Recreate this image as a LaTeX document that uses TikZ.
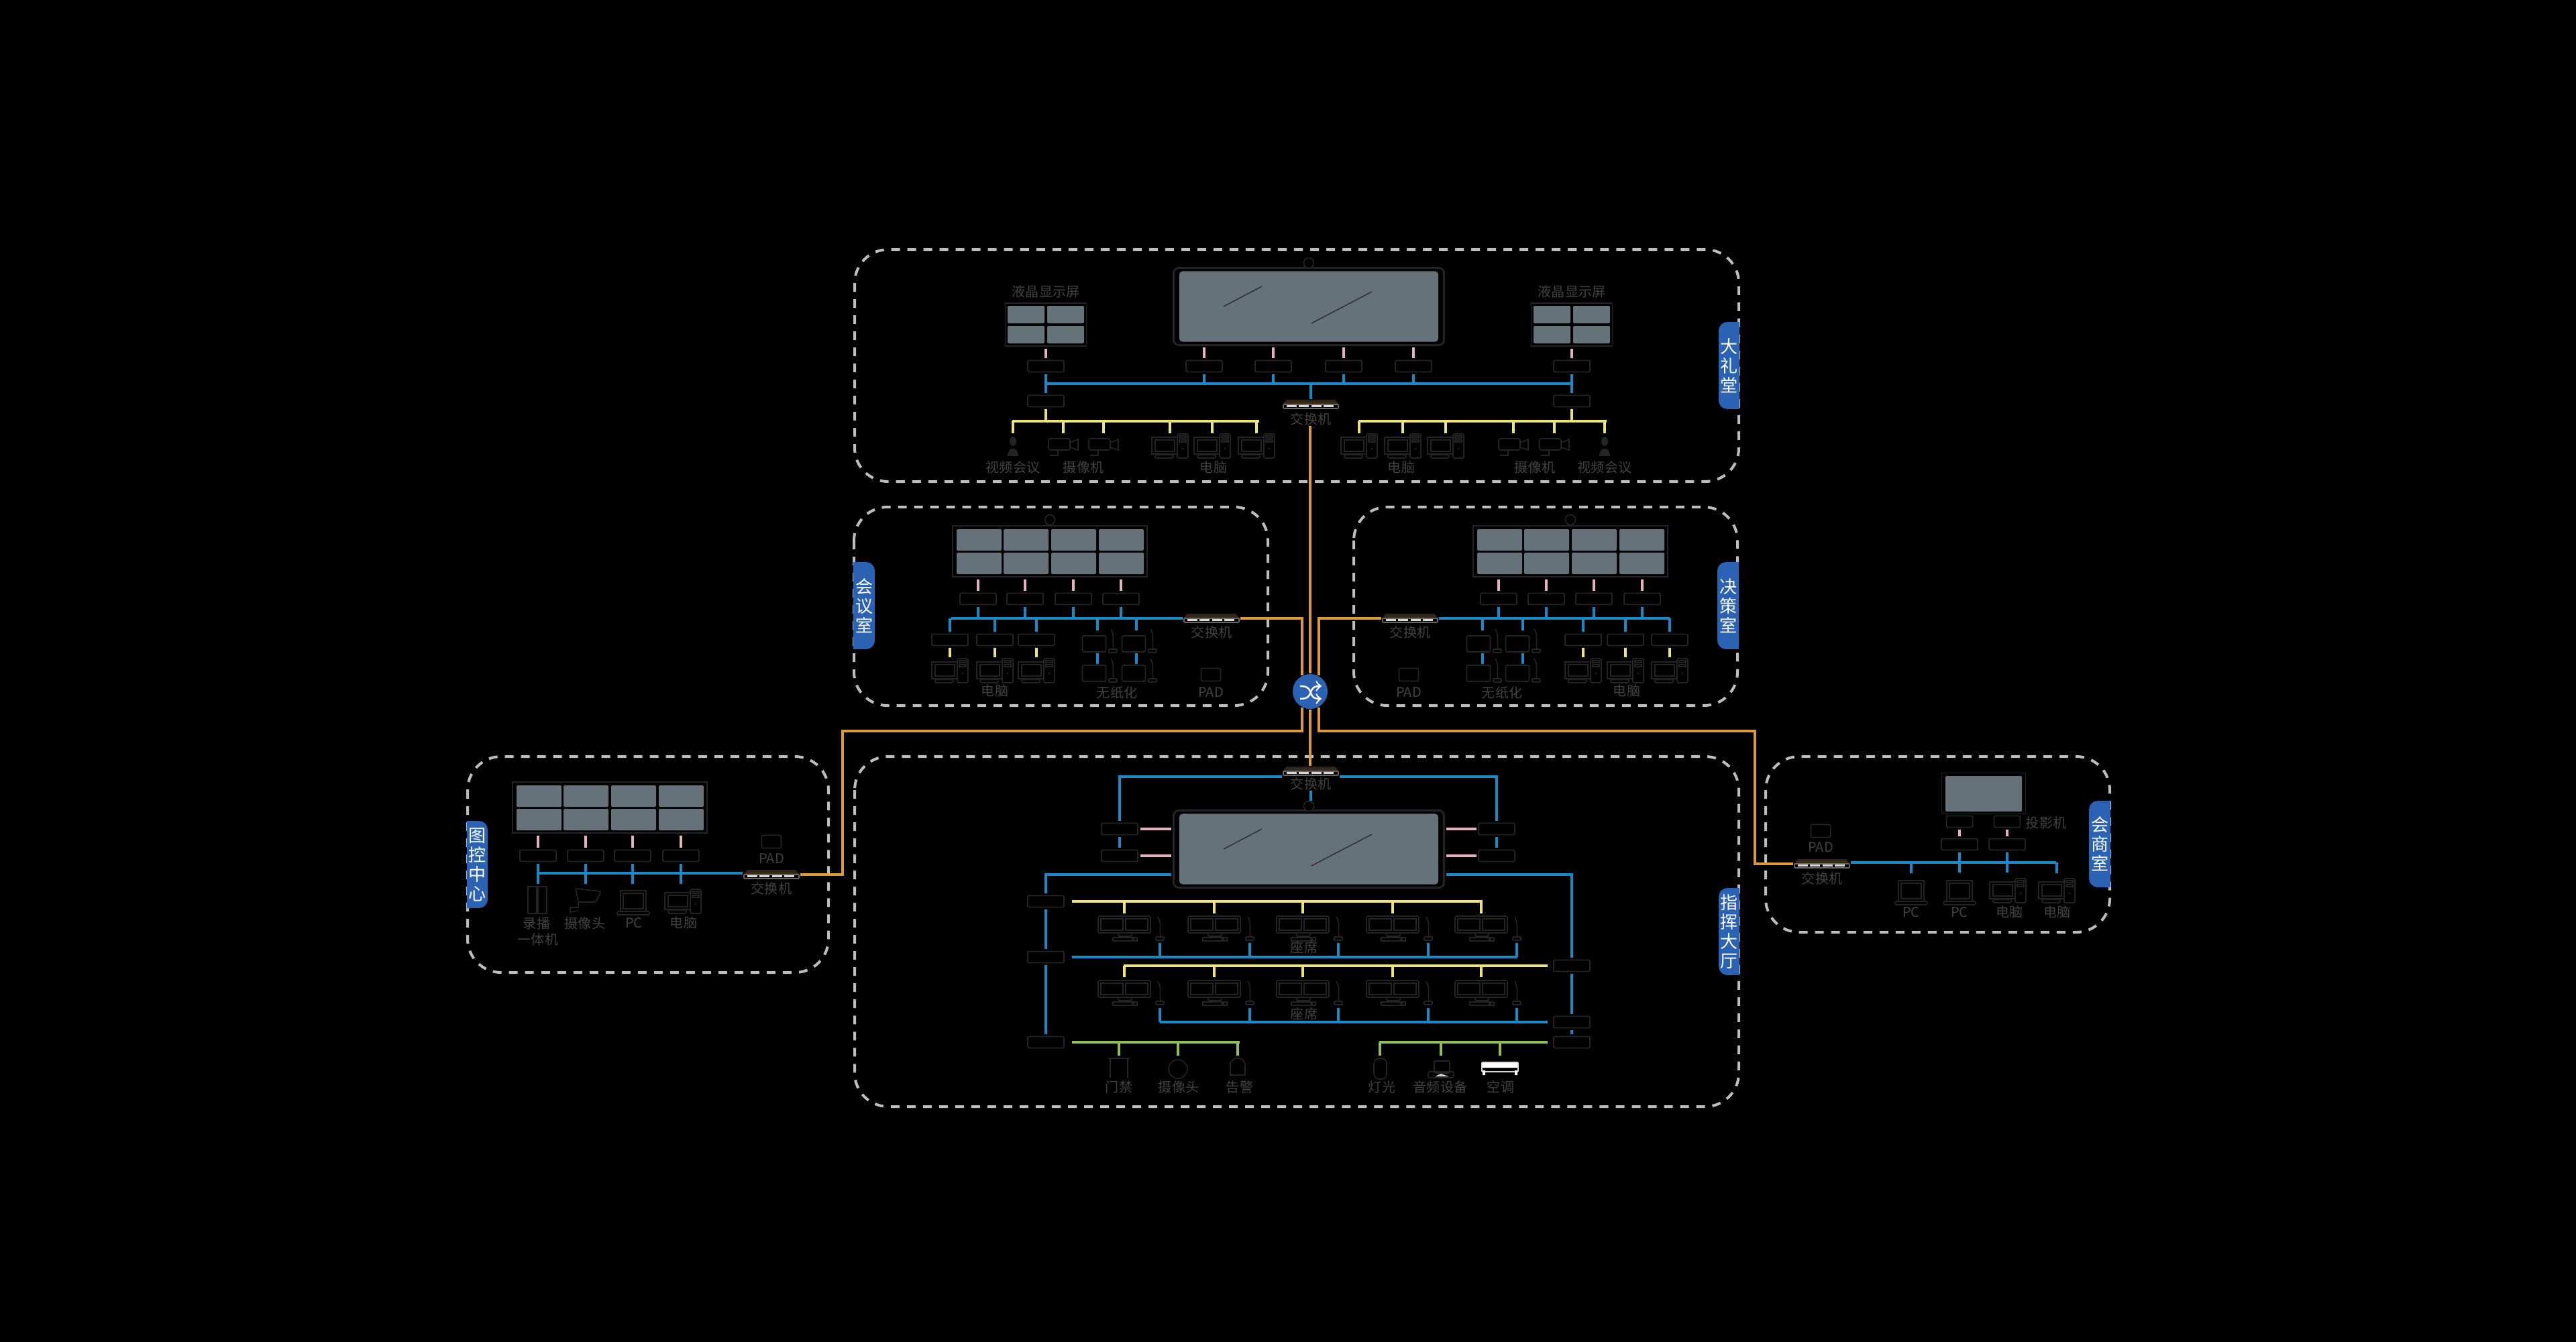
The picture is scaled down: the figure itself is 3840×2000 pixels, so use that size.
\documentclass[tikz,border=0pt]{standalone}
\usepackage{fontspec}
\setmainfont{Noto Sans CJK SC}
\definecolor{roomgray}{HTML}{BDBDBD}
\definecolor{panelgray}{HTML}{66727A}
\definecolor{iconc}{HTML}{242424}
\definecolor{labelc}{HTML}{424242}
\definecolor{tabblue}{HTML}{2B62B3}
\definecolor{netblue}{HTML}{1A8AC6}
\definecolor{netpink}{HTML}{E6AFC3}
\definecolor{netyellow}{HTML}{EDE57A}
\definecolor{netgreen}{HTML}{8FBF55}
\definecolor{netorange}{HTML}{DD9B38}
\tikzset{
  roomline/.style={draw=roomgray,line width=.04cm,dash pattern=on .13cm off .11cm,rounded corners=.5cm},
  boxnode/.style={draw=iconc,line width=.018cm,rounded corners=.02cm,minimum width=.54cm,minimum height=.17cm,inner sep=0,outer sep=.035cm},
  iconunit/.style={inner sep=0,outer sep=.02cm},
  iconln/.style={draw=iconc,line width=.016cm},
  framenode/.style={draw=iconc,fill=black,line width=.018cm,inner sep=0,outer sep=.035cm},
  panelfill/.style={fill=panelgray,rounded corners=.015cm},
  lbl/.style={text=labelc,font=\fontsize{5.7}{6.5}\selectfont,inner sep=0},
  tabtext/.style={text=white,font=\fontsize{7.4}{8.25}\selectfont,align=center,inner sep=0},
  blueln/.style={draw=netblue,line width=.035cm},
  pinkln/.style={draw=netpink,line width=.035cm},
  yellowln/.style={draw=netyellow,line width=.035cm},
  greenln/.style={draw=netgreen,line width=.035cm},
  orangeln/.style={draw=netorange,line width=.035cm}
}
\newcommand{\sidetab}[6]{
  \fill[tabblue,rounded corners=.13cm] (#2,#4) rectangle (#3,#5);
  \fill[tabblue] ({(#2+#3)/2},#4) rectangle (#3,#5);
  \node[tabtext] (#1) at ({(#2+#3)/2},{(#4+#5)/2}) {#6};
}
\newcommand{\bigscreen}[3]{
  \node[framenode,rounded corners=.08cm,line width=.03cm,minimum width=4.03cm,minimum height=1.15cm] (#1) at (#2,#3) {};
  \node[fill=panelgray,rounded corners=.05cm,inner sep=0,minimum width=3.86cm,minimum height=1.05cm] (#1p) at (#2,#3) {};
  \begin{scope}[shift={(#2,#3)}]
    \draw[black!80,line width=.016cm] (-127,0) -- (-70,-30) (4,25) -- (94,-22);
  \end{scope}
}
\newcommand{\lcdunit}[3]{
  \node[framenode,minimum width=1.21cm,minimum height=.64cm] (#1) at (#2,#3) {};
  \begin{scope}[shift={(#2,#3)}]
    \foreach \px in {-57,2} \foreach \py in {-28,2}
      \fill[panelfill] (\px,\py) rectangle ++(55,26);
  \end{scope}
}
\newcommand{\videowall}[3]{
  \node[framenode,minimum width=2.9cm,minimum height=.76cm] (#1) at (#2,#3) {};
  \begin{scope}[shift={(#2,#3)}]
    \foreach \px in {-139,-69,2,73} \foreach \py in {-33,2}
      \fill[panelfill] (\px,\py) rectangle ++(67,32);
  \end{scope}
}
\newcommand{\camtop}[3]{
  \node[circle,draw=iconc,fill=black,line width=.016cm,inner sep=0,minimum size=.15cm] (#1) at (#2,#3) {};
}
\newcommand{\pcunit}[3]{
  \node[iconunit,minimum width=.54cm,minimum height=.37cm] (#1) at (#2,#3) {};
  \begin{scope}[shift={(#2,#3)}]
    \draw[iconln] (-27,-13) rectangle (11,12);
    \draw[iconln] (-22,-9) rectangle (7,8);
    \draw[iconln,rounded corners=.02cm] (-22,13) rectangle (5,18);
    \draw[iconln,fill=black,rounded corners=.02cm] (11,-18) rectangle (27,18);
    \draw[iconln] (14,-15) rectangle (24,-12) (14,-9) rectangle (24,-6);
    \fill[iconc] (19,4) circle (.015cm);
  \end{scope}
}
\newcommand{\lapunit}[3]{
  \node[iconunit,minimum width=.48cm,minimum height=.37cm] (#1) at (#2,#3) {};
  \begin{scope}[shift={(#2,#3)}]
    \draw[iconln] (-19,-18) rectangle (19,13);
    \draw[iconln] (-15,-14) rectangle (15,9);
    \draw[iconln,rounded corners=.02cm] (-24,13) rectangle (24,18);
  \end{scope}
}
\newcommand{\micstand}[2]{
  \begin{scope}[shift={(#1,#2)}]
    \draw[iconln] (-3,-17) .. controls (3,-8) and (-1,4) .. (1,13);
    \draw[iconln,rounded corners=.01cm] (-6,13) rectangle (6,18);
  \end{scope}
}
\newcommand{\consoleunit}[3]{
  \node[iconunit,minimum width=.78cm,minimum height=.38cm] (#1) at (#2,#3) {};
  \begin{scope}[shift={(#2,#3)}]
    \draw[iconln,rounded corners=.02cm] (-39,-18) rectangle (39,7);
    \draw[iconln] (-35,-14) rectangle (-2,3) (2,-14) rectangle (35,3);
    \draw[iconln] (-10,7) -- (-8,12) -- (10,12) -- (12,7);
    \draw[iconln] (-17,14) rectangle (12,19) (14,14) rectangle (19,19);
    \node[iconunit,minimum width=.14cm,minimum height=.36cm] (#1m) at (53,0) {};
  \end{scope}
  \micstand{#2+53}{#3}
}
\newcommand{\paperunit}[3]{
  \node[iconunit,draw=iconc,line width=.016cm,rounded corners=.02cm,minimum width=.35cm,minimum height=.24cm] (#1) at (#2,#3) {};
  \micstand{#2+28}{#3-5}
}
\newcommand{\padunit}[3]{
  \node[iconunit,draw=iconc,line width=.016cm,rounded corners=.02cm,minimum width=.29cm,minimum height=.19cm] (#1) at (#2,#3) {};
}
\newcommand{\camunit}[3]{
  \node[iconunit,minimum width=.44cm,minimum height=.28cm] (#1) at (#2,#3) {};
  \begin{scope}[shift={(#2,#3)}]
    \draw[iconln,rounded corners=.03cm] (-22,-12) rectangle (10,5);
    \draw[iconln] (10,-6) -- (22,-11) -- (22,5) -- (10,1);
    \draw[iconln] (-8,5) -- (-8,13) -- (-20,13);
  \end{scope}
}
\newcommand{\personunit}[3]{
  \node[iconunit,minimum width=.14cm,minimum height=.28cm] (#1) at (#2,#3) {};
  \begin{scope}[shift={(#2,#3)}]
    \fill[iconc] (0,-8) ellipse (.05cm and .07cm);
    \fill[iconc] (-8,14) .. controls (-8,-1) and (8,-1) .. (8,14) -- cycle;
  \end{scope}
}
\newcommand{\switchunit}[4]{
  \node[iconunit,minimum width=.82cm,minimum height=.13cm] (#1) at (#2,#3) {};
  \begin{scope}[shift={(#2,#3)}]
    \draw[iconln,fill=black!70!brown] (-36,-6) -- (36,-6) -- (41,0) -- (-41,0) -- cycle;
    \draw[iconln,fill=black,rounded corners=.01cm,draw=black!60!white] (-41,0) rectangle (41,6);
    \foreach \bx in {-36,-18,1,19} \fill[black!15!white] (\bx,1) rectangle ++(15,3);
  \end{scope}
  \node[lbl] (#1l) at (#2,#4) {交换机};
}
\begin{document}
\begin{tikzpicture}[x=.01cm,y=-.01cm]
\useasboundingbox (0,0) rectangle (3840,2000);
\fill[black] (-10,-10) rectangle (3850,2010);

\draw[roomline] (1274,372) rectangle (2592,718);
\sidetab{tabA}{2562}{2593}{480}{610}{大\\礼\\堂}
\bigscreen{scrA}{1951}{457}
\camtop{camA}{1951}{392}
\lcdunit{lcdL}{1559}{484}
\lcdunit{lcdR}{2343}{484}
\foreach \n/\x in {a/1559,b/1795,c/1898,d/2003,e/2107,f/2343}{
  \node[boxnode] (ar\n) at (\x,546) {};
}
\foreach \n in {b,c,d,e}{
  \draw[pinkln] (ar\n.north) -- (ar\n.north |- scrA.south);
}
\draw[pinkln] (ara.north) -- (lcdL.south);
\draw[pinkln] (arf.north) -- (lcdR.south);
\coordinate (busA) at (1559,572);
\coordinate (busAe) at (2344,572);
\draw[blueln] (busA) -- (busAe);
\foreach \n in {b,c,d,e}{
  \draw[blueln] (ar\n.south) -- (ar\n.south |- busA);
}
\node[boxnode] (ala) at (1559,598) {};
\node[boxnode] (alf) at (2343,598) {};
\draw[blueln] (ara.south) -- (ala.north);
\draw[blueln] (arf.south) -- (alf.north);
\switchunit{swA}{1954}{603}{625}
\draw[blueln] (swA.north) -- (swA.north |- busA);
\coordinate (yelLa) at (1509,628);
\coordinate (yelLb) at (1877,628);
\coordinate (yelRa) at (2025,628);
\coordinate (yelRb) at (2395,628);
\draw[yellowln] (yelLa) -- (yelLb);
\draw[yellowln] (yelRa) -- (yelRb);
\draw[yellowln] (ala.south) -- (ala.south |- yelLa);
\draw[yellowln] (alf.south) -- (alf.south |- yelRa);
\personunit{manL}{1510}{666}
\personunit{manR}{2392}{666}
\camunit{ccA}{1585}{666}
\camunit{ccB}{1645}{666}
\camunit{ccC}{2256}{666}
\camunit{ccD}{2317}{666}
\foreach \n/\x in {pa/1744,pb/1807,pc/1873,pd/2026,pe/2091,pf/2155}{
  \pcunit{\n}{\x}{665}
}
\foreach \n in {manL,ccA,ccB,pa,pb,pc}{
  \draw[yellowln] (\n.north |- yelLa) -- +(0,18);
}
\foreach \n in {manR,ccC,ccD,pd,pe,pf}{
  \draw[yellowln] (\n.north |- yelRa) -- +(0,18);
}
\foreach \n/\x/\y/\txt in {a/1559/435/液晶显示屏,b/2343/435/液晶显示屏,c/1510/697/视频会议,d/1615/697/摄像机,e/1809/697/电脑,f/2089/697/电脑,g/2288/697/摄像机,h/2392/697/视频会议}{
  \node[lbl] (la\n) at (\x,\y) {\txt};
}

\draw[roomline] (1273,756) rectangle (1890,1052);
\sidetab{tabB}{1304}{1272}{838}{968}{会\\议\\室}
\videowall{wallB}{1565}{822}
\camtop{camB}{1565}{775}
\foreach \n/\x in {a/1458,b/1528,c/1600,d/1671}{
  \node[boxnode] (br\n) at (\x,893) {};
  \draw[pinkln] (br\n.north) -- (br\n.north |- wallB.south);
}
\switchunit{swB}{1806}{922}{943}
\coordinate (busB) at (1418,922);
\draw[blueln] (busB) -- (busB -| swB.west);
\foreach \n in {a,b,c,d}{
  \draw[blueln] (br\n.south) -- (br\n.south |- busB);
}
\foreach \n/\x in {a/1416,b/1483,c/1545}{
  \node[boxnode] (bl\n) at (\x,954) {};
  \draw[blueln] (bl\n.north |- busB) -- (bl\n.north);
  \pcunit{bp\n}{\x}{1000}
  \draw[yellowln] (bl\n.south) -- (bp\n.north);
}
\paperunit{bta}{1631}{960}
\paperunit{btb}{1690}{960}
\paperunit{btc}{1631}{1004}
\paperunit{btd}{1690}{1004}
\draw[blueln] ([xshift=.05cm,yshift=.06cm]bta.north) -- ([xshift=.05cm]bta.north |- busB);
\draw[blueln] ([xshift=.04cm,yshift=.06cm]btb.north) -- ([xshift=.04cm]btb.north |- busB);
\draw[blueln] ([xshift=.05cm]bta.south) -- ([xshift=.05cm]btc.north);
\draw[blueln] ([xshift=.04cm]btb.south) -- ([xshift=.04cm]btd.north);
\padunit{padB}{1805}{1006}
\foreach \n/\x/\y/\txt in {a/1483/1030/电脑,b/1665/1033/无纸化,c/1805/1032/PAD}{
  \node[lbl] (lb\n) at (\x,\y) {\txt};
}

\draw[roomline] (2018,756) rectangle (2590,1052);
\sidetab{tabD}{2560}{2592}{838}{968}{决\\策\\室}
\videowall{wallD}{2341}{822}
\camtop{camD}{2341}{775}
\foreach \n/\x in {a/2234,b/2305,c/2376,d/2448}{
  \node[boxnode] (dr\n) at (\x,893) {};
  \draw[pinkln] (dr\n.north) -- (dr\n.north |- wallD.south);
}
\switchunit{swD}{2102}{922}{943}
\coordinate (busD) at (2489,922);
\draw[blueln] (swD.east |- busD) -- (busD);
\foreach \n in {a,b,c,d}{
  \draw[blueln] (dr\n.south) -- (dr\n.south |- busD);
}
\foreach \n/\x in {a/2360,b/2423,c/2489}{
  \node[boxnode] (dl\n) at (\x,954) {};
  \draw[blueln] (dl\n.north |- busD) -- (dl\n.north);
  \pcunit{dp\n}{\x}{1000}
  \draw[yellowln] (dl\n.south) -- (dp\n.north);
}
\paperunit{dta}{2204}{960}
\paperunit{dtb}{2262}{960}
\paperunit{dtc}{2204}{1004}
\paperunit{dtd}{2262}{1004}
\draw[blueln] ([xshift=.06cm,yshift=.06cm]dta.north) -- ([xshift=.06cm]dta.north |- busD);
\draw[blueln] ([xshift=.08cm,yshift=.06cm]dtb.north) -- ([xshift=.08cm]dtb.north |- busD);
\draw[blueln] ([xshift=.06cm]dta.south) -- ([xshift=.06cm]dtc.north);
\draw[blueln] ([xshift=.08cm]dtb.south) -- ([xshift=.08cm]dtd.north);
\padunit{padD}{2100}{1006}
\foreach \n/\x/\y/\txt in {a/2100/1032/PAD,b/2239/1033/无纸化,c/2425/1030/电脑}{
  \node[lbl] (ld\n) at (\x,\y) {\txt};
}

\draw[roomline] (697,1128) rectangle (1235,1450);
\sidetab{tabG}{727}{696}{1224}{1354}{图\\控\\中\\心}
\videowall{wallG}{909}{1204}
\foreach \n/\x in {a/802,b/873,c/943,d/1015}{
  \node[boxnode] (gr\n) at (\x,1276) {};
  \draw[pinkln] (gr\n.north) -- (gr\n.north |- wallG.south);
  \draw[blueln] (gr\n.south) -- +(0,30);
}
\switchunit{swG}{1150}{1304}{1325}
\coordinate (busG) at (802,1302);
\draw[blueln] (busG) -- (busG -| swG.west);
\padunit{padG}{1150}{1255}
\node[iconunit,minimum width=.28cm,minimum height=.4cm] (recG) at (801,1342) {};
\draw[iconln] (787,1322) rectangle (800,1362) (802,1322) rectangle (815,1362);
\node[iconunit,minimum width=.46cm,minimum height=.35cm] (camG) at (873,1342) {};
\draw[iconln,rounded corners=.02cm] (858,1325) -- (896,1329) -- (888,1345) -- (862,1345) -- cycle;
\draw[iconln] (862,1345) -- (862,1353) -- (850,1353) -- (850,1360) -- (862,1358);
\lapunit{lapG}{944}{1346}
\pcunit{pcG}{1018}{1344}
\foreach \n/\x/\y/\txt in {a/1150/1280/PAD,b/800/1377/录播,c/802/1401/一体机,d/872/1377/摄像头,e/945/1376/PC,f/1019/1376/电脑}{
  \node[lbl] (lg\n) at (\x,\y) {\txt};
}

\draw[roomline] (1274,1128) rectangle (2592,1650);
\sidetab{tabH}{2562}{2593}{1324}{1454}{指\\挥\\大\\厅}
\bigscreen{scrH}{1951}{1266}
\camtop{camH}{1951}{1202}
\switchunit{swH}{1954}{1150}{1169}
\draw[blueln] (swHl.south) -- (swHl.south |- camH.north);
\foreach \n/\x/\y in {a/1669/1236,b/1669/1276,c/2231/1236,d/2231/1276}{
  \node[boxnode] (hb\n) at (\x,\y) {};
}
\draw[blueln] ([yshift=-.08cm]swH.west) -| (hba.north);
\draw[blueln] ([yshift=-.08cm]swH.east) -| (hbc.north);
\draw[blueln] (hba.south) -- (hbb.north);
\draw[blueln] (hbc.south) -- (hbd.north);
\foreach \n in {a,b}{
  \draw[pinkln] (hb\n.east) -- (hb\n.east -| scrH.west);
}
\foreach \n in {c,d}{
  \draw[pinkln] (hb\n.west) -- (hb\n.west -| scrH.east);
}
\foreach \n/\x/\y in {la/1559/1344,lb/1559/1427,lc/1559/1554,ra/2343/1440,rb/2343/1524,rc/2343/1554}{
  \node[boxnode] (hs\n) at (\x,\y) {};
}
\draw[blueln] ([yshift=-.38cm]scrH.west) -| (hsla.north);
\draw[blueln] ([yshift=-.38cm]scrH.east) -| (hsra.north);
\draw[blueln] (hsla.south) -- (hslb.north);
\draw[blueln] (hslb.south) -- (hslc.north);
\draw[blueln] (hsra.south) -- (hsrb.north);
\draw[blueln] (hsrb.south) -- (hsrc.north);
\foreach \n/\x in {a/1676,b/1810,c/1942,d/2076,e/2208}{
  \consoleunit{ca\n}{\x}{1384}
  \consoleunit{cb\n}{\x}{1480}
}
\coordinate (yelA) at (2210,1344);
\coordinate (bluA) at (2262,1427);
\coordinate (yelB) at (1675,1440);
\coordinate (bluB) at (1729,1524);
\coordinate (grnA) at (1848,1554);
\coordinate (grnB) at (2056,1554);
\draw[yellowln] ([xshift=.08cm]hsla.east) -- (yelA);
\draw[blueln] ([xshift=.08cm]hslb.east) -- (bluA);
\draw[yellowln] ([xshift=-.06cm]hsra.west) -- (yelB);
\draw[blueln] ([xshift=-.06cm]hsrb.west) -- (bluB);
\draw[greenln] ([xshift=.08cm]hslc.east) -- (grnA);
\draw[greenln] ([xshift=-.06cm]hsrc.west) -- (grnB);
\foreach \n in {a,b,c,d,e}{
  \draw[yellowln] (ca\n.north |- yelA) -- +(0,18);
  \draw[blueln] (ca\n m.south |- bluA) -- +(0,-21);
  \draw[yellowln] (cb\n.north |- yelB) -- +(0,17);
  \draw[blueln] (cb\n m.south |- bluB) -- +(0,-21);
}
\node[iconunit,minimum width=.32cm,minimum height=.3cm] (eqa) at (1668,1592) {};
\draw[iconln] (1652,1578) -- (1684,1578) (1655,1578) -- (1655,1607) (1681,1578) -- (1681,1607);
\node[iconunit,circle,draw=iconc,line width=.016cm,minimum size=.28cm] (eqb) at (1756,1594) {};
\node[iconunit,minimum width=.26cm,minimum height=.26cm] (eqc) at (1845,1591) {};
\draw[iconln] (1834,1603) -- (1834,1586) .. controls (1838,1575) and (1852,1575) .. (1856,1586) -- (1856,1603) -- cycle;
\node[iconunit,minimum width=.2cm,minimum height=.3cm] (eqd) at (2057,1593) {};
\draw[iconln,rounded corners=.08cm] (2048,1578) rectangle (2067,1609);
\node[iconunit,minimum width=.38cm,minimum height=.25cm] (eqe) at (2148,1594) {};
\draw[iconln,fill=black,rounded corners=.02cm] (2138,1582) rectangle (2161,1600);
\draw[iconln,rounded corners=.02cm] (2129,1598) rectangle (2167,1607);
\fill[white!85!black] (2139,1605) -- (2148,1601) -- (2160,1605) -- cycle;
\node[iconunit,minimum width=.56cm,minimum height=.2cm] (eqf) at (2236,1593) {};
\fill[white,rounded corners=.01cm] (2209,1585) rectangle (2263,1592);
\draw[white!85!black,line width=.016cm,rounded corners=.01cm] (2209,1584) rectangle (2263,1598);
\fill[white] (2210,1596) rectangle (2214,1603) (2258,1596) rectangle (2262,1603);
\foreach \n in {eqa,eqb,eqc}{
  \draw[greenln] (\n.north |- grnA) -- +(0,20);
}
\foreach \n in {eqd,eqe,eqf}{
  \draw[greenln] (\n.north |- grnB) -- +(0,20);
}
\foreach \n/\x/\y/\txt in {a/1944/1413/座席,b/1944/1512/座席,c/1668/1621/门禁,d/1757/1621/摄像头,e/1848/1621/告警,f/2060/1621/灯光,g/2147/1621/音频设备,h/2237/1621/空调}{
  \node[lbl] (lh\n) at (\x,\y) {\txt};
}

\draw[roomline] (2632,1128) rectangle (3145,1390);
\sidetab{tabC}{3114}{3146}{1194}{1323}{会\\商\\室}
\node[framenode,minimum width=1.25cm,minimum height=.61cm] (scrC) at (2957,1183) {};
\fill[panelfill] (2900,1157) rectangle (3014,1210);
\foreach \n/\x in {a/2921,b/2992}{
  \node[boxnode,minimum width=.39cm] (cp\n) at (\x,1225) {};
  \node[boxnode] (cb\n) at (\x,1259) {};
  \draw[pinkln] (cb\n.north) -- (cp\n.south);
  \draw[blueln] (cb\n.south) -- +(0,30);
}
\switchunit{swC}{2716}{1288}{1310}
\padunit{padC}{2714}{1239}
\coordinate (busC) at (3065,1286);
\draw[blueln] (busC -| swC.east) -- (busC);
\lapunit{lapA}{2849}{1331}
\lapunit{lapB}{2921}{1331}
\pcunit{pcA}{2993}{1328}
\pcunit{pcB}{3066}{1328}
\draw[blueln] (lapA.north |- busC) -- +(0,16);
\draw[blueln] (pcB.north |- busC) -- +(0,16);
\foreach \n/\x/\y/\txt in {a/2714/1263/PAD,b/3050/1227/投影机,c/2849/1360/PC,d/2921/1360/PC,e/2995/1360/电脑,f/3066/1360/电脑}{
  \node[lbl] (lc\n) at (\x,\y) {\txt};
}

\node[circle,fill=tabblue,inner sep=0,minimum size=.52cm] (hub) at (1953,1031) {};
\draw[white,line width=.025cm,->] (1938,1023) .. controls (1962,1023) and (1946,1042) .. (1970,1042);
\draw[white,line width=.025cm,->] (1938,1042) .. controls (1962,1042) and (1946,1023) .. (1970,1023);
\coordinate (bendL) at (1256,1090);
\coordinate (bendR) at (2616,1090);
\draw[orangeln] (swAl.south -| hub.north) -- (hub.north);
\draw[orangeln] (hub.south) -- (hub.south |- swH.north);
\draw[orangeln] (swB.east) -| ([xshift=-.12cm,yshift=-.03cm]hub.north);
\draw[orangeln] (swD.west) -| ([xshift=.13cm,yshift=-.03cm]hub.north);
\draw[orangeln] (swG.east) -| (bendL) -| ([xshift=-.12cm,yshift=.03cm]hub.south);
\draw[orangeln] (swC.west) -| (bendR) -| ([xshift=.13cm,yshift=.03cm]hub.south);
\end{tikzpicture}
\end{document}
